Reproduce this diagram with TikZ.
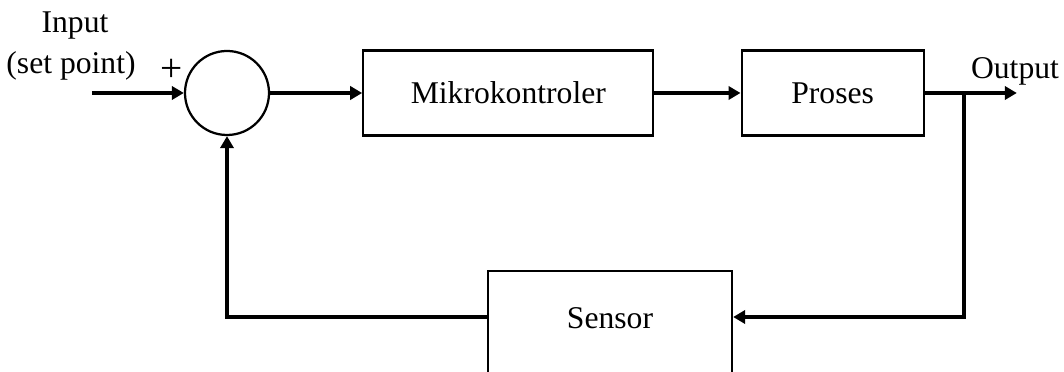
\documentclass[tikz,border=0pt]{standalone}
\usepackage{fontspec}
\setmainfont{Liberation Serif}
\usetikzlibrary{positioning,arrows.meta}
\tikzset{
  block/.style={
    draw,
    rectangle,
    line width=1.6pt,
    minimum height=2.125cm,
    align=center
  },
  sumnode/.style={
    draw,
    circle,
    line width=1.6pt,
    minimum size=2.1cm,
    inner sep=0pt
  },
  line/.style={-{Triangle[length=0.3cm,width=0.33cm]},line width=2.4pt}
}

\begin{document}
\begin{tikzpicture}[x=0.025cm,y=0.025cm,font=\fontsize{22.5}{26}\selectfont]
				\useasboundingbox (0,0) rectangle (1064,372);

				\node[sumnode] (s) at (227,279) {};
				\node[coordinate, left = 2.3cm of s] (in) {};
				\draw[line] (in) -- (s.west) ;

				\node[block, minimum width=7.25cm, right = 2.3cm of s] (m) {Mikrokontroler};
				\draw[line] (s.east) -- (m.west) ;

				\node[block, minimum width=4.55cm, right = 2.15cm of m] (p) {Proses};
				\draw[line] (m.east) -- (p.west) ;

				\node[coordinate, right = 2.3cm of p] (o) {};
				\draw[line] (p.east) -- (o) ;

				\node (inlbl) at (75,346) {Input};
				\node (splbl) at (71,306) {(set point)};
				\node[font=\fontsize{28}{30}\selectfont] (plus) at (172,302) {+};
				\node (outlbl) at (1015,301) {Output};

				% sensor box runs past the lower edge
				\node[block, minimum width=6.1cm, minimum height=2.75cm, text depth=0.4cm] (sen) at (610,46) {Sensor};
				\coordinate (sin) at ([yshift=0.225cm]sen.east);
				\coordinate (sout) at ([yshift=0.225cm]sen.west);

				\node[coordinate, right = 0.975cm of p] (t) {};
				\draw[line] (t) |- (sin) ;
				\draw[line] (sout) -| (s.south) ;

\end{tikzpicture}
\end{document}
